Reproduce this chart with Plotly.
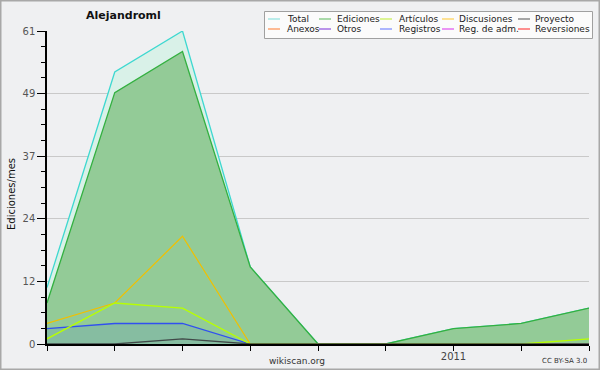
import plotly.graph_objects as go

# ---------------- data ----------------
months = ["2010-07", "2010-08", "2010-09", "2010-10", "2010-11",
          "2010-12", "2011-01", "2011-02", "2011-03"]
month_labels = ["", "", "", "", "", "", "2011", "", ""]

total = [11, 53, 61, 15, 0, 0, 3, 4, 7]
ediciones = [8, 49, 57, 15, 0, 0, 3, 4, 7]
articulos = [1, 8, 7, 0, 0, 0, 0, 0, 1]
discusiones = [4, 8, 21, 0, 0, 0, 0, 0, 0]
registros = [3, 4, 4, 0, 0, 0, 0, 0, 0]
proyecto = [0, 0, 1, 0, 0, 0, 0, 0, 0]

y_major_vals = [0, 12.2, 24.4, 36.6, 48.8, 61]
y_major_text = ["0", "12", "24", "37", "49", "61"]

legend_row1 = ["Total", "Ediciones", "Artículos", "Discusiones", "Proyecto"]
legend_row2 = ["Anexos", "Otros", "Registros", "Reg. de adm.", "Reversiones"]
legend_colors1 = ["#8fe3df", "#74c474", "#c8f050", "#ffd050", "#6e6e6e"]
legend_colors2 = ["#ff9050", "#9050e0", "#7888ff", "#e050f0", "#ff4848"]

title = "Alejandroml"
ytitle = "Ediciones/mes"

# ---------------- figure ----------------
W, H = 600, 370
ML, MR, MT, MB = 47, 11, 31, 26
PW, PH = W - ML - MR, H - MT - MB


def px(x):
    return (x - ML) / PW


def py(y):
    return (H - MB - y) / PH


fig = go.Figure()

fig.add_trace(go.Scatter(x=months, y=total, mode="lines", fill="tozeroy",
                         fillcolor="#d9f1e8",
                         line=dict(color="#3ed8d0", width=1.3),
                         showlegend=False, name="Total"))
fig.add_trace(go.Scatter(x=months, y=ediciones, mode="lines", fill="tozeroy",
                         fillcolor="#93cb97",
                         line=dict(color="#33b040", width=1.3),
                         showlegend=False, name="Ediciones"))
fig.add_trace(go.Scatter(x=months, y=registros, mode="lines", fill="tozeroy",
                         fillcolor="rgba(40,90,240,0.12)",
                         line=dict(color="#3050f0", width=1.3),
                         showlegend=False, name="Registros"))
fig.add_trace(go.Scatter(x=months, y=discusiones, mode="lines",
                         line=dict(color="#f0c000", width=1.2),
                         showlegend=False, name="Discusiones"))
fig.add_trace(go.Scatter(x=months, y=articulos, mode="lines",
                         line=dict(color="#b8ff00", width=1.4),
                         showlegend=False, name="Artículos"))
fig.add_trace(go.Scatter(x=months, y=proyecto, mode="lines",
                         line=dict(color="#404848", width=1.3),
                         showlegend=False, name="Proyecto"))

shapes = []
annotations = []

# outer frame
shapes.append(dict(type="rect", xref="paper", yref="paper",
                   x0=px(0.5), x1=px(W - 0.5), y0=py(H - 0.5), y1=py(0.5),
                   line=dict(color="#a8a8a8", width=2), layer="above"))

# title
annotations.append(dict(text="<b>" + title + "</b>", xref="paper", yref="paper",
                        x=px(123), y=py(16), showarrow=False,
                        font=dict(family="DejaVu Sans", size=11, color="#111"),
                        xanchor="center", yanchor="middle"))
# y title
annotations.append(dict(text=ytitle, xref="paper", yref="paper",
                        x=px(11), y=py(194), showarrow=False, textangle=-90,
                        font=dict(family="DejaVu Sans", size=10, color="#111"),
                        xanchor="center", yanchor="middle"))
# footer
annotations.append(dict(text="wikiscan.org", xref="paper", yref="paper",
                        x=px(297), y=py(361), showarrow=False,
                        font=dict(family="DejaVu Sans", size=9, color="#333"),
                        xanchor="center", yanchor="middle"))
annotations.append(dict(text="CC BY-SA 3.0", xref="paper", yref="paper",
                        x=px(589), y=py(361), showarrow=False,
                        font=dict(family="DejaVu Sans", size=7, color="#333"),
                        xanchor="right", yanchor="middle"))

# legend box
shapes.append(dict(type="rect", xref="paper", yref="paper",
                   x0=px(264.5), x1=px(592.5), y0=py(38.5), y1=py(11.5),
                   line=dict(color="#a0a0a0", width=1), fillcolor="#fbfbfb",
                   layer="above"))
col_line_x = [268, 319, 380, 442, 518]
col_text_x = [285, 335, 397, 457, 533]
for row_y, labels, colors in ((19, legend_row1, legend_colors1),
                              (29, legend_row2, legend_colors2)):
    for i, (lab, col) in enumerate(zip(labels, colors)):
        shapes.append(dict(type="line", xref="paper", yref="paper",
                           x0=px(col_line_x[i]), x1=px(col_line_x[i] + 12),
                           y0=py(row_y), y1=py(row_y),
                           line=dict(color=col, width=1.2), layer="above"))
        annotations.append(dict(text=lab, xref="paper", yref="paper",
                                x=px(col_text_x[i]), y=py(row_y),
                                showarrow=False, xanchor="left",
                                yanchor="middle",
                                font=dict(family="DejaVu Sans", size=9,
                                          color="#222")))

fig.update_layout(
    width=W, height=H, autosize=False,
    margin=dict(l=ML, r=MR, t=MT, b=MB, pad=0, autoexpand=False),
    paper_bgcolor="#eff0f2", plot_bgcolor="#eff0f2",
    shapes=shapes, annotations=annotations, showlegend=False,
    xaxis=dict(type="category", categoryorder="array", categoryarray=months,
               range=[0, len(months) - 1], tickmode="array",
               tickvals=months, ticktext=month_labels, automargin=False,
               ticks="outside", ticklen=5, tickcolor="#000", tickwidth=1,
               ticklabelstandoff=-3,
               showline=True, linecolor="#000", linewidth=1.5,
               showgrid=False, zeroline=False,
               tickfont=dict(family="DejaVu Sans", size=10, color="#444")),
    yaxis=dict(range=[0, 61], tickmode="array", tickvals=y_major_vals,
               ticktext=y_major_text, ticks="outside", ticklen=8,
               tickcolor="#000", tickwidth=1, automargin=False,
               showline=True, linecolor="#000", linewidth=1.5,
               showgrid=True, gridcolor="#c9c9c9", gridwidth=1,
               zeroline=False,
               minor=dict(tick0=0, dtick=3.05, ticks="outside", ticklen=4,
                          tickcolor="#000", tickwidth=1, showgrid=False),
               tickfont=dict(family="DejaVu Sans", size=10, color="#555")),
)

fig.write_html("out.html", config={"displayModeBar": False},
               post_script="document.body.style.margin='0';"
                           "document.body.style.padding='0';"
                           "document.body.style.overflow='hidden';")
